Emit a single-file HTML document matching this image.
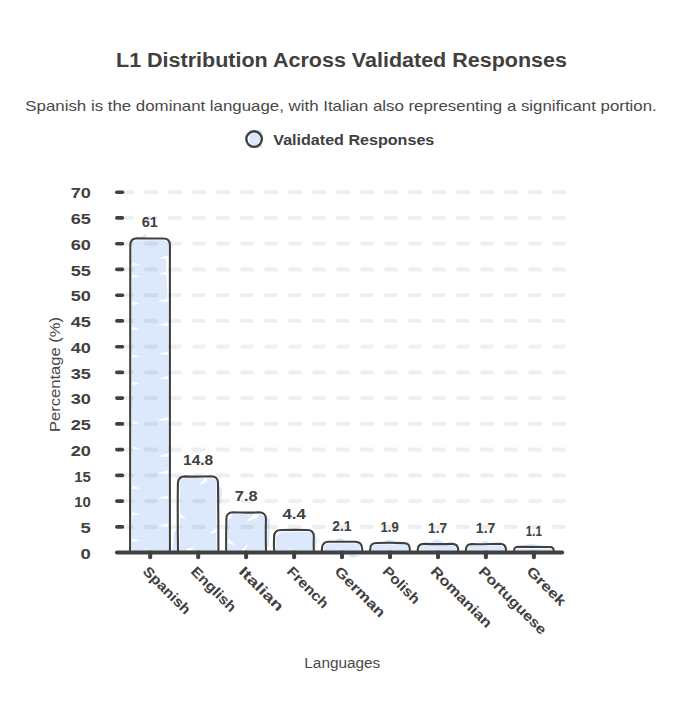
<!DOCTYPE html><html><head><meta charset="utf-8"><style>html,body{margin:0;padding:0;background:#fff;overflow:hidden}svg{display:block}</style></head><body><svg width="684" height="719" viewBox="0 0 684 719">
<rect width="684" height="719" fill="#fff"/>
<text x="116" y="67.4" font-family="Liberation Sans, sans-serif" font-weight="bold" font-size="19.5" fill="#404040" textLength="451" lengthAdjust="spacingAndGlyphs">L1 Distribution Across Validated Responses</text>
<text x="25.3" y="111" font-family="Liberation Sans, sans-serif" font-size="15" fill="#484848" textLength="631.5" lengthAdjust="spacingAndGlyphs">Spanish is the dominant language, with Italian also representing a significant portion.</text>
<rect x="249.5" y="130" width="12.5" height="18" fill="#dce8fc"/>
<circle cx="254.1" cy="139.1" r="7.8" fill="none" stroke="#404040" stroke-width="2.4"/>
<text x="273.3" y="144.7" font-family="Liberation Sans, sans-serif" font-weight="bold" font-size="14" fill="#404040" textLength="161" lengthAdjust="spacingAndGlyphs">Validated Responses</text>
<path d="M132.0,552.6 L132.0,244.5 Q132.0,240.3 138.0,240.3 L162.4,240.3 Q168.4,240.3 168.4,244.5 L168.4,552.6Z" fill="#dce8fc"/>
<path d="M180.0,552.6 L180.0,482.4 Q180.0,478.2 186.0,478.2 L210.4,478.2 Q216.4,478.2 216.4,482.4 L216.4,552.6Z" fill="#dce8fc"/>
<path d="M227.9,552.6 L227.9,518.4 Q227.9,514.2 233.9,514.2 L258.3,514.2 Q264.3,514.2 264.3,518.4 L264.3,552.6Z" fill="#dce8fc"/>
<path d="M275.9,552.6 L275.9,535.9 Q275.9,531.7 281.9,531.7 L306.3,531.7 Q312.3,531.7 312.3,535.9 L312.3,552.6Z" fill="#dce8fc"/>
<path d="M323.8,552.6 L323.8,547.8 Q323.8,543.6 329.8,543.6 L354.2,543.6 Q360.2,543.6 360.2,547.8 L360.2,552.6Z" fill="#dce8fc"/>
<path d="M371.8,552.6 L371.8,548.7 Q371.8,544.6 377.7,544.6 L402.3,544.6 Q408.2,544.6 408.2,548.7 L408.2,552.6Z" fill="#dce8fc"/>
<path d="M419.8,552.6 L419.8,549.1 Q419.8,545.6 425.0,545.6 L450.9,545.6 Q456.2,545.6 456.2,549.1 L456.2,552.6Z" fill="#dce8fc"/>
<path d="M467.7,552.6 L467.7,549.1 Q467.7,545.6 473.0,545.6 L498.9,545.6 Q504.1,545.6 504.1,549.1 L504.1,552.6Z" fill="#dce8fc"/>
<path d="M515.7,552.6 L515.7,550.3 Q515.7,548.7 519.1,548.7 L548.7,548.7 Q552.1,548.7 552.1,550.3 L552.1,552.6Z" fill="#dce8fc"/>
<path d="M131.0,262.1 L140.0,264.8 L131.0,265.9Z" fill="#fff"/>
<path d="M131.0,274.1 L140.0,276.8 L131.0,277.9Z" fill="#fff"/>
<path d="M131.0,301.1 L140.0,303.8 L131.0,304.9Z" fill="#fff"/>
<path d="M131.0,326.6 L140.0,329.3 L131.0,330.4Z" fill="#fff"/>
<path d="M131.0,354.1 L140.0,356.8 L131.0,357.9Z" fill="#fff"/>
<path d="M131.0,381.1 L140.0,383.8 L131.0,384.9Z" fill="#fff"/>
<path d="M131.0,420.6 L140.0,423.3 L131.0,424.4Z" fill="#fff"/>
<path d="M131.0,446.1 L140.0,448.8 L131.0,449.9Z" fill="#fff"/>
<path d="M131.0,485.6 L140.0,488.3 L131.0,489.4Z" fill="#fff"/>
<path d="M131.0,511.8 L140.0,514.5 L131.0,515.6Z" fill="#fff"/>
<path d="M131.0,538.1 L140.0,540.8 L131.0,541.9Z" fill="#fff"/>
<path d="M169.0,254.9 L157.5,258.2 L169.0,259.1Z" fill="#fff"/>
<path d="M169.0,270.9 L157.5,274.2 L169.0,275.1Z" fill="#fff"/>
<path d="M169.0,297.9 L157.5,301.2 L169.0,302.1Z" fill="#fff"/>
<path d="M169.0,321.9 L157.5,325.2 L169.0,326.1Z" fill="#fff"/>
<path d="M169.0,350.9 L157.5,354.2 L169.0,355.1Z" fill="#fff"/>
<path d="M169.0,375.4 L157.5,378.7 L169.0,379.6Z" fill="#fff"/>
<path d="M169.0,416.6 L157.5,419.9 L169.0,420.8Z" fill="#fff"/>
<path d="M169.0,452.9 L157.5,456.2 L169.0,457.1Z" fill="#fff"/>
<path d="M169.0,469.9 L157.5,473.2 L169.0,474.1Z" fill="#fff"/>
<path d="M169.0,494.9 L157.5,498.2 L169.0,499.1Z" fill="#fff"/>
<path d="M169.0,522.9 L157.5,526.2 L169.0,527.1Z" fill="#fff"/>
<path d="M166,256 L169,256 L169,300 L167.5,300Z" fill="#fff"/>
<path d="M140,237.5 L146,233.5 L147,237.5Z" fill="#dce8fc"/>
<path d="M172.5,552 L174,532 L178.5,528 L178.5,552Z" fill="#dce8fc"/>
<path d="M217.5,484 L222,490 L221,502 L217.5,506Z" fill="#dce8fc"/>
<path d="M207.0,474.5 L199.0,486.0 L207.0,481.5Z" fill="#fff"/>
<path d="M180.0,512.5 L186.0,519.0 L180.0,517.5Z" fill="#fff"/>
<path d="M186.0,549.5 L195.0,546.0 L186.0,554.5Z" fill="#fff"/>
<path d="M216.5,527.5 L209.0,534.0 L216.5,532.5Z" fill="#fff"/>
<path d="M265.5,514 L270,520 L269,546 L265.5,548Z" fill="#dce8fc"/>
<path d="M227,514 L233,514 L227,522Z" fill="#fff"/>
<path d="M258.0,510.5 L246.0,522.0 L258.0,517.5Z" fill="#fff"/>
<path d="M227.0,537.5 L236.0,546.0 L227.0,542.5Z" fill="#fff"/>
<path d="M242.0,549.5 L249.0,543.0 L242.0,554.5Z" fill="#fff"/>
<path d="M313.5,533 L317,539 L316,549 L313.5,550Z" fill="#dce8fc"/>
<path d="M275,532 L281,532 L275,538Z" fill="#fff"/>
<path d="M334,541.5 Q340.0,534.5 346,541.5Z" fill="#dce8fc"/>
<path d="M382,543 Q389.0,536 396,543Z" fill="#dce8fc"/>
<path d="M430,543 Q437.0,536 444,543Z" fill="#dce8fc"/>
<path d="M478,544.5 Q485.0,537.5 492,544.5Z" fill="#dce8fc"/>
<path d="M518,547.5 Q531.5,540.5 545,547.5Z" fill="#dce8fc"/>
<path d="M345,553 L360,556 L352,558Z" fill="#dce8fc"/>
<path d="M317,537 L320.5,541 L320.5,545Z" fill="#dce8fc" opacity="0.6"/>
<line x1="122.1" y1="526.9" x2="566" y2="526.9" stroke="#000" stroke-opacity="0.063" stroke-width="4.2" stroke-linecap="round" stroke-dasharray="9.8 14.2"/>
<line x1="122.1" y1="501.1" x2="566" y2="501.1" stroke="#000" stroke-opacity="0.063" stroke-width="4.2" stroke-linecap="round" stroke-dasharray="9.8 14.2"/>
<line x1="122.1" y1="475.4" x2="566" y2="475.4" stroke="#000" stroke-opacity="0.063" stroke-width="4.2" stroke-linecap="round" stroke-dasharray="9.8 14.2"/>
<line x1="122.1" y1="449.6" x2="566" y2="449.6" stroke="#000" stroke-opacity="0.063" stroke-width="4.2" stroke-linecap="round" stroke-dasharray="9.8 14.2"/>
<line x1="122.1" y1="423.9" x2="566" y2="423.9" stroke="#000" stroke-opacity="0.063" stroke-width="4.2" stroke-linecap="round" stroke-dasharray="9.8 14.2"/>
<line x1="122.1" y1="398.1" x2="566" y2="398.1" stroke="#000" stroke-opacity="0.063" stroke-width="4.2" stroke-linecap="round" stroke-dasharray="9.8 14.2"/>
<line x1="122.1" y1="372.4" x2="566" y2="372.4" stroke="#000" stroke-opacity="0.063" stroke-width="4.2" stroke-linecap="round" stroke-dasharray="9.8 14.2"/>
<line x1="122.1" y1="346.7" x2="566" y2="346.7" stroke="#000" stroke-opacity="0.063" stroke-width="4.2" stroke-linecap="round" stroke-dasharray="9.8 14.2"/>
<line x1="122.1" y1="320.9" x2="566" y2="320.9" stroke="#000" stroke-opacity="0.063" stroke-width="4.2" stroke-linecap="round" stroke-dasharray="9.8 14.2"/>
<line x1="122.1" y1="295.2" x2="566" y2="295.2" stroke="#000" stroke-opacity="0.063" stroke-width="4.2" stroke-linecap="round" stroke-dasharray="9.8 14.2"/>
<line x1="122.1" y1="269.4" x2="566" y2="269.4" stroke="#000" stroke-opacity="0.063" stroke-width="4.2" stroke-linecap="round" stroke-dasharray="9.8 14.2"/>
<line x1="122.1" y1="243.7" x2="566" y2="243.7" stroke="#000" stroke-opacity="0.063" stroke-width="4.2" stroke-linecap="round" stroke-dasharray="9.8 14.2"/>
<line x1="122.1" y1="217.9" x2="566" y2="217.9" stroke="#000" stroke-opacity="0.063" stroke-width="4.2" stroke-linecap="round" stroke-dasharray="9.8 14.2"/>
<line x1="122.1" y1="192.2" x2="566" y2="192.2" stroke="#000" stroke-opacity="0.063" stroke-width="4.2" stroke-linecap="round" stroke-dasharray="9.8 14.2"/>
<path d="M130.1,552.6 Q129.6,399.1 130.3,245.5 Q130.2,238.5 137.2,238.3 Q150.2,238.6 163.2,238.5 Q170.2,238.5 169.9,245.5 Q170.2,399.1 169.9,552.6" fill="none" stroke="#404040" stroke-width="2.1" stroke-linejoin="round" stroke-linecap="round"/>
<path d="M178.1,552.6 Q177.5,518.0 177.9,483.4 Q178.2,476.4 185.2,476.4 Q198.2,476.9 211.2,476.2 Q218.2,476.4 218.0,483.4 Q218.4,518.0 218.4,552.6" fill="none" stroke="#404040" stroke-width="2.1" stroke-linejoin="round" stroke-linecap="round"/>
<path d="M226.2,552.6 Q226.0,536.0 226.4,519.4 Q226.1,512.4 233.1,512.2 Q246.1,513.0 259.1,512.3 Q266.1,512.4 265.9,519.4 Q265.5,536.0 266.0,552.6" fill="none" stroke="#404040" stroke-width="2.1" stroke-linejoin="round" stroke-linecap="round"/>
<path d="M274.3,552.6 Q273.6,544.8 274.1,536.9 Q274.1,529.9 281.1,530.0 Q294.1,529.7 307.1,530.0 Q314.1,529.9 313.8,536.9 Q313.4,544.8 313.9,552.6" fill="none" stroke="#404040" stroke-width="2.1" stroke-linejoin="round" stroke-linecap="round"/>
<path d="M322.1,552.6 Q321.9,550.7 321.9,548.8 Q322.0,541.8 329.0,541.8 Q342.0,541.7 355.0,541.7 Q362.0,541.8 362.2,548.8 Q362.4,550.7 361.9,552.6" fill="none" stroke="#404040" stroke-width="2.1" stroke-linejoin="round" stroke-linecap="round"/>
<path d="M370.0,552.6 Q370.0,551.1 370.2,549.7 Q370.0,542.8 376.8,543.0 Q390.0,542.5 403.2,543.1 Q410.0,542.8 409.8,549.7 Q409.9,551.1 410.2,552.6" fill="none" stroke="#404040" stroke-width="2.1" stroke-linejoin="round" stroke-linecap="round"/>
<path d="M417.8,552.6 Q417.9,551.3 417.7,550.0 Q418.0,543.8 424.1,543.9 Q438.0,544.3 451.8,543.9 Q458.0,543.8 458.2,550.0 Q457.7,551.3 458.1,552.6" fill="none" stroke="#404040" stroke-width="2.1" stroke-linejoin="round" stroke-linecap="round"/>
<path d="M466.0,552.6 Q466.0,551.3 465.9,550.0 Q465.9,543.8 472.0,544.1 Q485.9,544.6 499.8,543.8 Q505.9,543.8 506.0,550.0 Q505.2,551.3 506.0,552.6" fill="none" stroke="#404040" stroke-width="2.1" stroke-linejoin="round" stroke-linecap="round"/>
<path d="M514.0,552.6 Q514.7,551.8 514.1,550.9 Q513.9,546.9 517.8,546.8 Q533.9,546.8 549.9,547.0 Q553.9,546.9 553.6,550.9 Q553.8,551.8 553.7,552.6" fill="none" stroke="#404040" stroke-width="2.1" stroke-linejoin="round" stroke-linecap="round"/>
<text x="90.9" y="558.8" font-family="Liberation Sans, sans-serif" font-weight="bold" font-size="14.4" fill="#404040" text-anchor="end" textLength="10.3" lengthAdjust="spacingAndGlyphs">0</text>
<line x1="116.8" y1="526.9" x2="122.4" y2="526.9" stroke="#404040" stroke-width="3.6" stroke-linecap="round"/>
<text x="90.9" y="533.1" font-family="Liberation Sans, sans-serif" font-weight="bold" font-size="14.4" fill="#404040" text-anchor="end" textLength="10.3" lengthAdjust="spacingAndGlyphs">5</text>
<line x1="116.8" y1="501.1" x2="122.4" y2="501.1" stroke="#404040" stroke-width="3.6" stroke-linecap="round"/>
<text x="90.9" y="507.3" font-family="Liberation Sans, sans-serif" font-weight="bold" font-size="14.4" fill="#404040" text-anchor="end" textLength="16.6" lengthAdjust="spacingAndGlyphs">10</text>
<line x1="116.8" y1="475.4" x2="122.4" y2="475.4" stroke="#404040" stroke-width="3.6" stroke-linecap="round"/>
<text x="90.9" y="481.6" font-family="Liberation Sans, sans-serif" font-weight="bold" font-size="14.4" fill="#404040" text-anchor="end" textLength="16.6" lengthAdjust="spacingAndGlyphs">15</text>
<line x1="116.8" y1="449.6" x2="122.4" y2="449.6" stroke="#404040" stroke-width="3.6" stroke-linecap="round"/>
<text x="90.9" y="455.8" font-family="Liberation Sans, sans-serif" font-weight="bold" font-size="14.4" fill="#404040" text-anchor="end" textLength="20.2" lengthAdjust="spacingAndGlyphs">20</text>
<line x1="116.8" y1="423.9" x2="122.4" y2="423.9" stroke="#404040" stroke-width="3.6" stroke-linecap="round"/>
<text x="90.9" y="430.1" font-family="Liberation Sans, sans-serif" font-weight="bold" font-size="14.4" fill="#404040" text-anchor="end" textLength="20.2" lengthAdjust="spacingAndGlyphs">25</text>
<line x1="116.8" y1="398.1" x2="122.4" y2="398.1" stroke="#404040" stroke-width="3.6" stroke-linecap="round"/>
<text x="90.9" y="404.3" font-family="Liberation Sans, sans-serif" font-weight="bold" font-size="14.4" fill="#404040" text-anchor="end" textLength="20.2" lengthAdjust="spacingAndGlyphs">30</text>
<line x1="116.8" y1="372.4" x2="122.4" y2="372.4" stroke="#404040" stroke-width="3.6" stroke-linecap="round"/>
<text x="90.9" y="378.6" font-family="Liberation Sans, sans-serif" font-weight="bold" font-size="14.4" fill="#404040" text-anchor="end" textLength="20.2" lengthAdjust="spacingAndGlyphs">35</text>
<line x1="116.8" y1="346.7" x2="122.4" y2="346.7" stroke="#404040" stroke-width="3.6" stroke-linecap="round"/>
<text x="90.9" y="352.9" font-family="Liberation Sans, sans-serif" font-weight="bold" font-size="14.4" fill="#404040" text-anchor="end" textLength="20.2" lengthAdjust="spacingAndGlyphs">40</text>
<line x1="116.8" y1="320.9" x2="122.4" y2="320.9" stroke="#404040" stroke-width="3.6" stroke-linecap="round"/>
<text x="90.9" y="327.1" font-family="Liberation Sans, sans-serif" font-weight="bold" font-size="14.4" fill="#404040" text-anchor="end" textLength="20.2" lengthAdjust="spacingAndGlyphs">45</text>
<line x1="116.8" y1="295.2" x2="122.4" y2="295.2" stroke="#404040" stroke-width="3.6" stroke-linecap="round"/>
<text x="90.9" y="301.4" font-family="Liberation Sans, sans-serif" font-weight="bold" font-size="14.4" fill="#404040" text-anchor="end" textLength="20.2" lengthAdjust="spacingAndGlyphs">50</text>
<line x1="116.8" y1="269.4" x2="122.4" y2="269.4" stroke="#404040" stroke-width="3.6" stroke-linecap="round"/>
<text x="90.9" y="275.6" font-family="Liberation Sans, sans-serif" font-weight="bold" font-size="14.4" fill="#404040" text-anchor="end" textLength="20.2" lengthAdjust="spacingAndGlyphs">55</text>
<line x1="116.8" y1="243.7" x2="122.4" y2="243.7" stroke="#404040" stroke-width="3.6" stroke-linecap="round"/>
<text x="90.9" y="249.9" font-family="Liberation Sans, sans-serif" font-weight="bold" font-size="14.4" fill="#404040" text-anchor="end" textLength="20.2" lengthAdjust="spacingAndGlyphs">60</text>
<line x1="116.8" y1="217.9" x2="122.4" y2="217.9" stroke="#404040" stroke-width="3.6" stroke-linecap="round"/>
<text x="90.9" y="224.1" font-family="Liberation Sans, sans-serif" font-weight="bold" font-size="14.4" fill="#404040" text-anchor="end" textLength="20.2" lengthAdjust="spacingAndGlyphs">65</text>
<line x1="116.8" y1="192.2" x2="122.4" y2="192.2" stroke="#404040" stroke-width="3.6" stroke-linecap="round"/>
<text x="90.9" y="198.4" font-family="Liberation Sans, sans-serif" font-weight="bold" font-size="14.4" fill="#404040" text-anchor="end" textLength="20.2" lengthAdjust="spacingAndGlyphs">70</text>
<line x1="117" y1="552.4" x2="562.2" y2="552.4" stroke="#404040" stroke-width="4" stroke-linecap="round"/>
<line x1="150.2" y1="552.6" x2="150.2" y2="557.3" stroke="#404040" stroke-width="4" stroke-linecap="round"/>
<line x1="198.2" y1="552.6" x2="198.2" y2="557.3" stroke="#404040" stroke-width="4" stroke-linecap="round"/>
<line x1="246.1" y1="552.6" x2="246.1" y2="557.3" stroke="#404040" stroke-width="4" stroke-linecap="round"/>
<line x1="294.1" y1="552.6" x2="294.1" y2="557.3" stroke="#404040" stroke-width="4" stroke-linecap="round"/>
<line x1="342.0" y1="552.6" x2="342.0" y2="557.3" stroke="#404040" stroke-width="4" stroke-linecap="round"/>
<line x1="390.0" y1="552.6" x2="390.0" y2="557.3" stroke="#404040" stroke-width="4" stroke-linecap="round"/>
<line x1="438.0" y1="552.6" x2="438.0" y2="557.3" stroke="#404040" stroke-width="4" stroke-linecap="round"/>
<line x1="485.9" y1="552.6" x2="485.9" y2="557.3" stroke="#404040" stroke-width="4" stroke-linecap="round"/>
<line x1="533.9" y1="552.6" x2="533.9" y2="557.3" stroke="#404040" stroke-width="4" stroke-linecap="round"/>
<text x="149.8" y="227.3" font-family="Liberation Sans, sans-serif" font-weight="bold" font-size="14" fill="#404040" text-anchor="middle" textLength="16.1" lengthAdjust="spacingAndGlyphs">61</text>
<text x="198.1" y="465.2" font-family="Liberation Sans, sans-serif" font-weight="bold" font-size="14" fill="#404040" text-anchor="middle" textLength="30.2" lengthAdjust="spacingAndGlyphs">14.8</text>
<text x="246.2" y="501.2" font-family="Liberation Sans, sans-serif" font-weight="bold" font-size="14" fill="#404040" text-anchor="middle" textLength="22.7" lengthAdjust="spacingAndGlyphs">7.8</text>
<text x="294.1" y="518.7" font-family="Liberation Sans, sans-serif" font-weight="bold" font-size="14" fill="#404040" text-anchor="middle" textLength="23.4" lengthAdjust="spacingAndGlyphs">4.4</text>
<text x="341.9" y="530.6" font-family="Liberation Sans, sans-serif" font-weight="bold" font-size="14" fill="#404040" text-anchor="middle" textLength="19.3" lengthAdjust="spacingAndGlyphs">2.1</text>
<text x="389.6" y="531.6" font-family="Liberation Sans, sans-serif" font-weight="bold" font-size="14" fill="#404040" text-anchor="middle" textLength="18.3" lengthAdjust="spacingAndGlyphs">1.9</text>
<text x="437.6" y="532.6" font-family="Liberation Sans, sans-serif" font-weight="bold" font-size="14" fill="#404040" text-anchor="middle" textLength="19.0" lengthAdjust="spacingAndGlyphs">1.7</text>
<text x="485.6" y="532.6" font-family="Liberation Sans, sans-serif" font-weight="bold" font-size="14" fill="#404040" text-anchor="middle" textLength="19.5" lengthAdjust="spacingAndGlyphs">1.7</text>
<text x="533.8" y="535.7" font-family="Liberation Sans, sans-serif" font-weight="bold" font-size="14" fill="#404040" text-anchor="middle" textLength="16.1" lengthAdjust="spacingAndGlyphs">1.1</text>
<text x="142.0" y="572.2" transform="rotate(45 142.0 572.2)" font-family="Liberation Sans, sans-serif" font-weight="bold" font-size="14" fill="#404040" textLength="60.9" lengthAdjust="spacingAndGlyphs">Spanish</text>
<text x="190.0" y="572.2" transform="rotate(45 190.0 572.2)" font-family="Liberation Sans, sans-serif" font-weight="bold" font-size="14" fill="#404040" textLength="57.6" lengthAdjust="spacingAndGlyphs">English</text>
<text x="237.9" y="572.2" transform="rotate(45 237.9 572.2)" font-family="Liberation Sans, sans-serif" font-weight="bold" font-size="14" fill="#404040" textLength="56.7" lengthAdjust="spacingAndGlyphs">Italian</text>
<text x="285.9" y="572.2" transform="rotate(45 285.9 572.2)" font-family="Liberation Sans, sans-serif" font-weight="bold" font-size="14" fill="#404040" textLength="52.4" lengthAdjust="spacingAndGlyphs">French</text>
<text x="333.8" y="572.2" transform="rotate(45 333.8 572.2)" font-family="Liberation Sans, sans-serif" font-weight="bold" font-size="14" fill="#404040" textLength="64.9" lengthAdjust="spacingAndGlyphs">German</text>
<text x="381.8" y="572.2" transform="rotate(45 381.8 572.2)" font-family="Liberation Sans, sans-serif" font-weight="bold" font-size="14" fill="#404040" textLength="46.1" lengthAdjust="spacingAndGlyphs">Polish</text>
<text x="429.8" y="572.2" transform="rotate(45 429.8 572.2)" font-family="Liberation Sans, sans-serif" font-weight="bold" font-size="14" fill="#404040" textLength="80.0" lengthAdjust="spacingAndGlyphs">Romanian</text>
<text x="477.7" y="572.2" transform="rotate(45 477.7 572.2)" font-family="Liberation Sans, sans-serif" font-weight="bold" font-size="14" fill="#404040" textLength="89.4" lengthAdjust="spacingAndGlyphs">Portuguese</text>
<text x="525.7" y="572.2" transform="rotate(45 525.7 572.2)" font-family="Liberation Sans, sans-serif" font-weight="bold" font-size="14" fill="#404040" textLength="48.9" lengthAdjust="spacingAndGlyphs">Greek</text>
<text x="342.3" y="667.5" font-family="Liberation Sans, sans-serif" font-size="14" fill="#484848" text-anchor="middle" textLength="76" lengthAdjust="spacingAndGlyphs">Languages</text>
<text x="0" y="0" transform="translate(59.5 374.5) rotate(-90)" font-family="Liberation Sans, sans-serif" font-size="14" fill="#484848" text-anchor="middle" textLength="115" lengthAdjust="spacingAndGlyphs">Percentage (%)</text>
</svg></body></html>
